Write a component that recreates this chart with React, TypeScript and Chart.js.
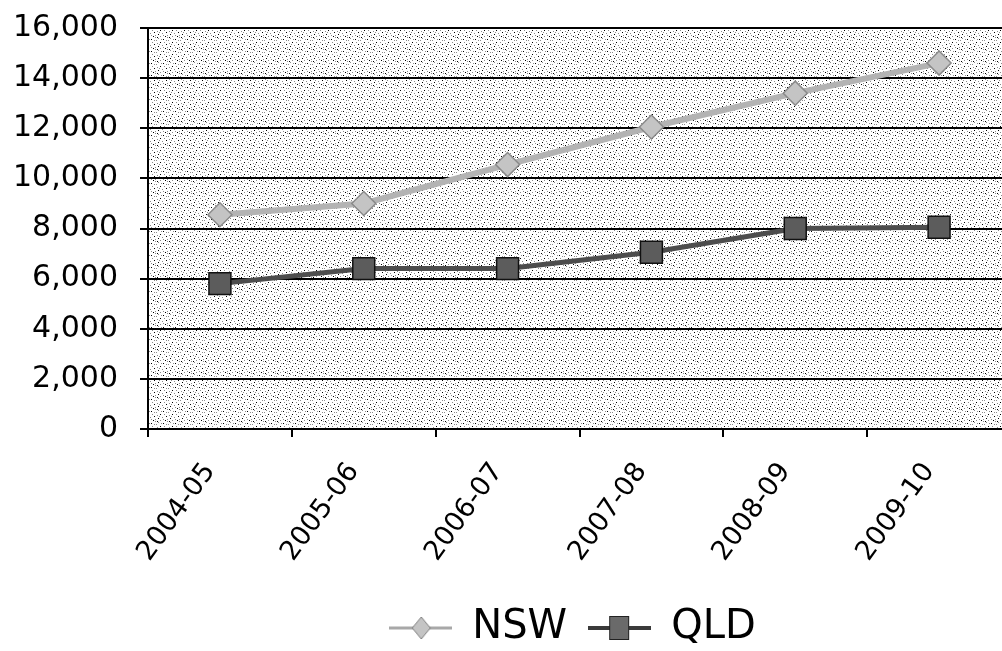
import React, { useEffect, useRef } from "react";
import { Chart, registerables } from "chart.js";

Chart.register(...registerables);

const categories = ["2004-05", "2005-06", "2006-07", "2007-08", "2008-09", "2009-10"];
const nswValues = [8550, 9000, 10550, 12050, 13400, 14600];
const qldValues = [5800, 6400, 6400, 7050, 8000, 8050];
const seriesNames = ["NSW", "QLD"];
const yTicks = [0, 2000, 4000, 6000, 8000, 10000, 12000, 14000, 16000];

const blackDots = [[1, 1], [7, 3], [4, 6], [10, 8], [2, 10], [9, 0]];
const grayDots = [[4, 0], [10, 4], [0, 4], [5, 3], [8, 6], [1, 7], [6, 9], [11, 11], [3, 8], [7, 11], [2, 2], [11, 1]];

function makePattern(ctx: CanvasRenderingContext2D) {
  const t = document.createElement("canvas");
  t.width = 12;
  t.height = 12;
  const c = t.getContext("2d")!;
  c.fillStyle = "#ffffff";
  c.fillRect(0, 0, 12, 12);
  c.fillStyle = "#8c8c8c";
  grayDots.forEach(([x, y]) => c.fillRect(x, y, 1, 1));
  c.fillStyle = "#000000";
  blackDots.forEach(([x, y]) => c.fillRect(x, y, 1, 1));
  return ctx.createPattern(t, "repeat");
}

function makeIcon(kind: "diamond" | "square") {
  const cv = document.createElement("canvas");
  cv.width = 63;
  cv.height = 30;
  const c = cv.getContext("2d")!;
  if (kind === "diamond") {
    c.strokeStyle = "#a8a8a8";
    c.lineWidth = 3;
    c.beginPath();
    c.moveTo(0, 15);
    c.lineTo(63, 15);
    c.stroke();
    c.beginPath();
    c.moveTo(32, 4);
    c.lineTo(41, 15);
    c.lineTo(32, 26);
    c.lineTo(23, 15);
    c.closePath();
    c.fillStyle = "#c4c4c4";
    c.fill();
    c.strokeStyle = "#808080";
    c.lineWidth = 1;
    c.stroke();
  } else {
    c.strokeStyle = "#3a3a3a";
    c.lineWidth = 4;
    c.beginPath();
    c.moveTo(0, 15);
    c.lineTo(63, 15);
    c.stroke();
    c.fillStyle = "#6a6a6a";
    c.fillRect(21, 3, 20, 24);
    c.strokeStyle = "#222222";
    c.lineWidth = 1;
    c.strokeRect(21.5, 3.5, 19, 23);
  }
  return cv;
}

const CANVAS_W = 1028;

export default function App() {
  const ref = useRef<HTMLCanvasElement | null>(null);

  useEffect(() => {
    const canvas = ref.current;
    if (!canvas) return;
    const ctx = canvas.getContext("2d")!;
    const pattern = makePattern(ctx);
    const icons = [makeIcon("diamond"), makeIcon("square")];

    const bgPlugin = {
      id: "bgPattern",
      beforeDraw(chart: any) {
        const a = chart.chartArea;
        if (!a) return;
        const c = chart.ctx;
        c.save();
        c.fillStyle = pattern || "#e6e6e6";
        c.fillRect(a.left, a.top, a.right - a.left, a.bottom - a.top);
        c.restore();
      },
    };

    const legendShift = {
      id: "legendShift",
      afterLayout(chart: any) {
        const l = chart.legend;
        if (l) {
          l.left += 59;
          l.right += 59;
        }
      },
    };

    const chart = new Chart(canvas, {
      type: "line",
      data: {
        labels: categories,
        datasets: [
          {
            label: seriesNames[0],
            data: nswValues,
            borderColor: "#b3b3b3",
            borderWidth: 6,
            pointStyle: "rectRot",
            pointRadius: 12,
            pointBackgroundColor: "#c4c4c4",
            pointBorderColor: "#8a8a8a",
            pointBorderWidth: 1.5,
            tension: 0,
          },
          {
            label: seriesNames[1],
            data: qldValues,
            borderColor: "#4d4d4d",
            borderWidth: 5,
            pointStyle: "rect",
            pointRadius: 15.5,
            pointBackgroundColor: "#5c5c5c",
            pointBorderColor: "#111111",
            pointBorderWidth: 1.5,
            tension: 0,
          },
        ],
      },
      options: {
        animation: false,
        responsive: false,
        maintainAspectRatio: false,
        layout: { padding: { top: 28, right: 1, bottom: 4, left: 0 } },
        plugins: {
          tooltip: { enabled: false },
          legend: {
            position: "bottom",
            maxHeight: 60,
            labels: {
              usePointStyle: true,
              pointStyleWidth: 63,
              padding: 21,
              color: "#000",
              font: { family: "DejaVu Sans", size: 40 },
              generateLabels: (ch: any) =>
                ch.data.datasets.map((ds: any, i: number) => ({
                  text: ds.label,
                  pointStyle: icons[i],
                  fillStyle: "#fff",
                  strokeStyle: "#fff",
                  lineWidth: 0,
                  hidden: false,
                  datasetIndex: i,
                  fontColor: "#000",
                })),
            },
          },
        },
        scales: {
          x: {
            type: "category",
            offset: true,
            grid: {
              display: true,
              drawOnChartArea: false,
              drawTicks: true,
              tickLength: 8,
              offset: true,
              color: "#000",
              lineWidth: 2,
            },
            border: { display: true, color: "#000", width: 2 },
            ticks: {
              color: "#000",
              font: { family: "DejaVu Sans", size: 27 },
              minRotation: 54,
              maxRotation: 54,
              padding: 20,
              labelOffset: -10,
              autoSkip: false,
            },
            afterFit: (s: any) => {
              s.height = 158;
            },
          },
          y: {
            min: 0,
            max: 16000,
            afterBuildTicks: (s: any) => {
              s.ticks = yTicks.map((v) => ({ value: v }));
            },
            grid: {
              color: "#000",
              lineWidth: 2,
              tickLength: 8,
              drawTicks: true,
            },
            border: { display: true, color: "#000", width: 2 },
            ticks: {
              color: "#000",
              font: { family: "DejaVu Sans", size: 30 },
              padding: 22,
              callback: (v: any) => Number(v).toLocaleString("en-US"),
            },
            afterFit: (s: any) => {
              s.width = 148;
              s.paddingTop = 10;
              s.paddingBottom = 10;
            },
          },
        },
      },
      plugins: [bgPlugin, legendShift],
    } as any);

    return () => chart.destroy();
  }, []);

  return (
    <div
      style={{
        position: "absolute",
        left: 0,
        top: 0,
        width: 1002,
        height: 651,
        overflow: "hidden",
        background: "#fff",
      }}
    >
      <canvas
        ref={ref}
        width={CANVAS_W}
        height={651}
        style={{ display: "block", width: CANVAS_W, height: 651 }}
      />
    </div>
  );
}
